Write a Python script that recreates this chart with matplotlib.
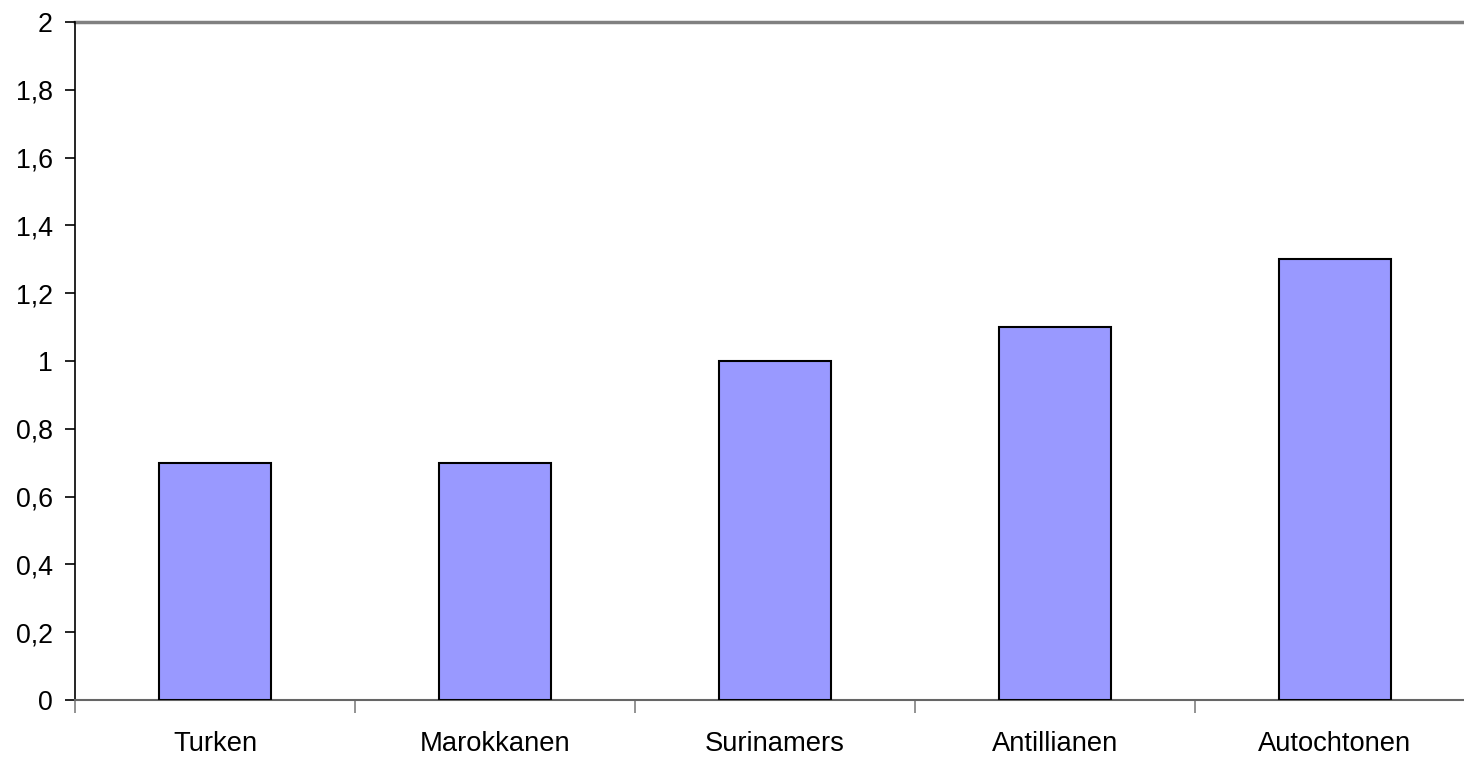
import numpy as np
import matplotlib.pyplot as plt

categories = ['Turken', 'Marokkanen', 'Surinamers', 'Antillianen', 'Autochtonen']
values = [0.7, 0.7, 1.0, 1.1, 1.3]
yticks = [0, 0.2, 0.4, 0.6, 0.8, 1, 1.2, 1.4, 1.6, 1.8, 2]
ytick_labels = ['0', '0,2', '0,4', '0,6', '0,8', '1', '1,2', '1,4', '1,6', '1,8', '2']

plt.rcParams['font.family'] = ['Liberation Sans', 'DejaVu Sans']

fig = plt.figure(figsize=(14.64, 7.58), dpi=100)
ax = fig.add_axes([75 / 1464, 58 / 758, 1400 / 1464, 678 / 758])

x = np.arange(len(categories))
ax.bar(x, values, width=0.4, color='#9999FF', edgecolor='black', linewidth=1.5, zorder=3)

ax.set_xlim(-0.5, len(categories) - 0.5)
ax.set_ylim(0, 2)

# boundaries as major ticks, labels on minor ticks at centres
ax.set_xticks(np.arange(len(categories) + 1) - 0.5)
ax.set_xticklabels([])
ax.set_xticks(x, minor=True)
ax.set_xticklabels(categories, minor=True, fontsize=19.7)
ax.tick_params(axis='x', which='minor', length=0, pad=22)
ax.tick_params(axis='x', which='major', length=9, width=1.2, color='#808080')

ax.set_yticks(yticks)
ax.set_yticklabels(ytick_labels, fontsize=19.3)
ax.tick_params(axis='y', length=7, width=1.2, pad=9)

ax.axhline(2, color='#808080', linewidth=2.5, zorder=1, clip_on=False)

for s in ['top', 'right']:
    ax.spines[s].set_visible(False)
ax.spines['left'].set_linewidth(1.2)
ax.spines['bottom'].set_color('#666666')
ax.spines['bottom'].set_linewidth(1.5)

fig.savefig('out.png', dpi=100)
